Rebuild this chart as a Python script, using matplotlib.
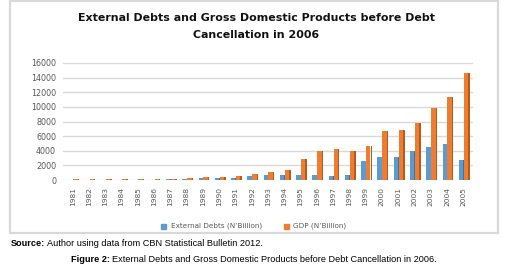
import matplotlib
matplotlib.use("Agg")
import matplotlib.pyplot as plt
from matplotlib.patches import Rectangle
import numpy as np

years = [str(y) for y in range(1981, 2006)]
external_debt = [2.33, 8.82, 10.58, 14.81, 17.30, 41.45, 100.79, 133.96, 240.39, 298.61,
                 328.45, 544.26, 633.14, 648.81, 716.87, 617.32, 595.93, 633.02, 2577.37,
                 3097.38, 3176.29, 3932.88, 4478.33, 4890.27, 2695.07]
gdp = [94.33, 101.01, 110.06, 116.27, 134.59, 134.60, 193.13, 263.29, 382.26, 472.65,
       545.67, 875.34, 1089.68, 1399.70, 2907.36, 4032.30, 4189.25, 3989.45, 4679.21,
       6713.57, 6895.20, 7795.76, 9913.52, 11411.07, 14610.88]
yticks = [0, 2000, 4000, 6000, 8000, 10000, 12000, 14000, 16000]

blue = "#5B9BD5"
blue_side = "#3F73A3"
orange = "#ED7D31"
orange_side = "#B85A1E"
grey_txt = "#595959"

fig = plt.figure(figsize=(5.12, 2.66), dpi=100)
fig.patch.set_facecolor("white")

# chart-area frame
fig.patches.append(Rectangle((10 / 512, 33 / 266), 488 / 512, 232 / 266,
                             transform=fig.transFigure, fill=False,
                             edgecolor="#D9D9D9", linewidth=1.6))

ax = fig.add_axes([63 / 512, 86 / 266, 410 / 512, 117 / 266])
x = np.arange(len(years))
w = 0.27
side = 0.09
ax.bar(x - w / 2, external_debt, w, color=blue, zorder=3, linewidth=0)
ax.bar(x + side / 2, external_debt, side, color=blue_side, zorder=2, linewidth=0)
ax.bar(x + w / 2 + 0.03, gdp, w, color=orange, zorder=3, linewidth=0)
ax.bar(x + w + 0.03 + side / 2, gdp, side, color=orange_side, zorder=2, linewidth=0)

ax.set_xlim(-0.6, len(years) - 0.4)
ax.set_ylim(0, 16000)
ax.set_yticks(yticks)
ax.set_yticklabels([str(v) for v in yticks], fontsize=5.8, color=grey_txt)
ax.set_xticks(x)
ax.set_xticklabels(years, rotation=90, fontsize=5.4, color=grey_txt)
ax.tick_params(length=0, pad=5)
ax.grid(axis="y", color="#D9D9D9", linewidth=1.0, zorder=0)
for s in ax.spines.values():
    s.set_visible(False)

fig.text(0.5, 1 - 18 / 266, "External Debts and Gross Domestic Products before Debt",
         ha="center", va="center", fontsize=7.9, fontweight="bold", color="#111111")
fig.text(0.5, 1 - 35 / 266, "Cancellation in 2006",
         ha="center", va="center", fontsize=7.9, fontweight="bold", color="#111111")

# legend
ly = 1 - 226 / 266
fig.patches.append(Rectangle((161 / 512, ly - 2.5 / 266), 5 / 512, 5 / 266,
                             transform=fig.transFigure, color=blue))
fig.text(171 / 512, ly, "External Debts (N\u2019Billion)", ha="left", va="center",
         fontsize=5.2, color=grey_txt)
fig.patches.append(Rectangle((284 / 512, ly - 2.5 / 266), 5 / 512, 5 / 266,
                             transform=fig.transFigure, color=orange))
fig.text(293 / 512, ly, "GDP (N\u2019Billion)", ha="left", va="center",
         fontsize=5.2, color=grey_txt)

# caption lines: bold lead-in followed by regular text
renderer = fig.canvas.get_renderer()


def two_part(x0, y0, bold, rest, size=6.6):
    t = fig.text(x0, y0, bold, ha="left", va="center", fontsize=size,
                 fontweight="bold", family="Liberation Sans")
    bb = t.get_window_extent(renderer)
    fig.text((bb.x1 + 2) / fig.bbox.width, y0, rest, ha="left", va="center",
             fontsize=size, family="Liberation Sans")


two_part(11 / 512, 1 - 244 / 266, "Source:", "Author using data from CBN Statistical Bulletin 2012.")
two_part(71 / 512, 1 - 259 / 266, "Figure 2:",
         "External Debts and Gross Domestic Products before Debt Cancellation in 2006.")

fig.savefig("out.png", dpi=100)
